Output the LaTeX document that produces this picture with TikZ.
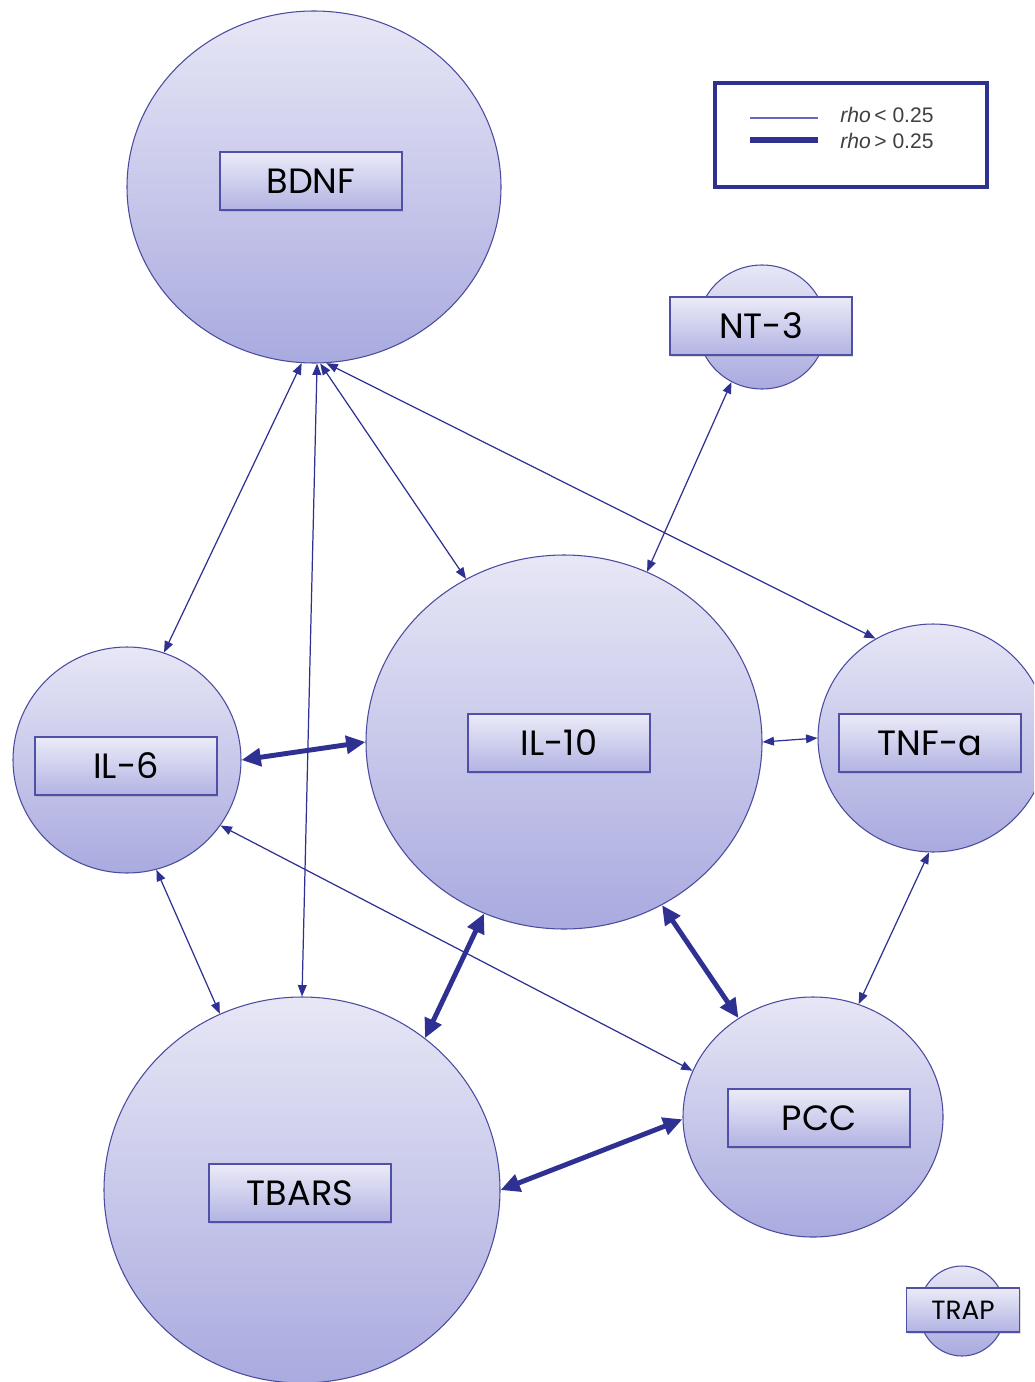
\documentclass[tikz,border=0pt]{standalone}
\usepackage{fontspec}
\setmainfont{Poppins}
\newfontfamily\keyfont{Liberation Sans}
\usetikzlibrary{shapes.geometric,arrows.meta,shadows}

\definecolor{blobtop}{HTML}{E7E7F6}
\definecolor{blobbot}{HTML}{A9AADF}
\definecolor{blobline}{HTML}{4A4A9E}
\definecolor{tagtop}{HTML}{EBEBF8}
\definecolor{tagbot}{HTML}{B2B3E3}
\definecolor{tagline}{HTML}{5050A6}
\definecolor{linkcol}{HTML}{2E3192}
\definecolor{keythin}{HTML}{6666C4}

\def\px{0.02cm}% one pixel of the sketch

\tikzset{
	blob/.style={ellipse, draw=blobline, line width=0.6pt, top color=blobtop, bottom color=blobbot, inner sep=0pt},
	tag/.style={rectangle, draw=tagline, line width=0.7pt, top color=tagtop, bottom color=tagbot, inner sep=0pt,
		minimum width=182*\px, minimum height=58*\px, font=\fontsize{20}{24}\selectfont,
		drop shadow={opacity=0.25, shadow xshift=0.6pt, shadow yshift=-1pt}},
	weak/.style={draw=linkcol, line width=0.7pt, {Triangle[length=6.5pt,width=5pt]}-{Triangle[length=6.5pt,width=5pt]}},
	strong/.style={draw=linkcol, line width=2.8pt, {Triangle[length=11pt,width=10pt]}-{Triangle[length=11pt,width=10pt]}}
}

\begin{document}
\begin{tikzpicture}[x=0.02cm, y=-0.02cm]
	
	\useasboundingbox (0,0) rectangle (1034,1382);
	\clip (0,0) rectangle (1034,1382); % TNF-a and TBARS run off the page
	
	% the circles: name / centre / radii
	\foreach \name/\x/\y/\rx/\ry in {bdnf/314/187/187/176, nt3/762/327/64/62, il6/127/760/114/113,
		il10/564/742/198/187, tnf/933/738/115/114, pcc/813/1117/130/120,
		tbars/302/1190/198/193, trap/962/1311/43/45}{%
		\node[blob, minimum width=2*\rx*\px, minimum height=2*\ry*\px] (\name) at (\x,\y) {};
	}
	
	% the labels on top
	\foreach \name/\x/\y/\txt in {bdnf/311/181/BDNF, nt3/761/326/NT-3, il6/126/766/IL-6,
		il10/559/743/IL-10, tnf/930/743/TNF-a, pcc/819/1118/PCC, tbars/300/1193/TBARS}{%
		\node[tag] (\name-tag) at (\x,\y) {\txt};
	}
	\node[tag, minimum width=113*\px, minimum height=44*\px, font=\fontsize{15}{18}\selectfont] (trap-tag) at (963,1310) {TRAP};
	
	% rho < 0.25
	\foreach \a/\b in {bdnf.266/il6.71, bdnf.271/tbars.90, bdnf.272/il10.121, bdnf.274/tnf.120,
		nt3.241/il10.64, il10.0/tnf.180, il6.285/tbars.115, il6.325/pcc.159, tnf.268/pcc.68}{%
		\draw[weak] (\a) -- (\b);
	}
	
	% rho > 0.25
	\foreach \a/\b in {il6.0/il10.180, il10.245/tbars.51, il10.301/pcc.127, tbars.0/pcc.181}{%
		\draw[strong] (\a) -- (\b);
	}
	
	% legend
	\node[draw=linkcol, line width=1.8pt, fill=white, minimum width=272*\px, minimum height=104*\px] (key) at (851,135) {};
	\coordinate (thin-l) at (750,118);
	\coordinate (thin-r) at (818,118);
	\coordinate (thick-l) at (750,140);
	\coordinate (thick-r) at (818,140);
	\draw[keythin, line width=1pt] (thin-l) -- (thin-r);
	\draw[linkcol, line width=3.2pt] (thick-l) -- (thick-r);
	\node[anchor=west, inner sep=0pt, font=\keyfont\fontsize{12}{14}\selectfont, text=black!75] (lo) at (840,115) {\textit{rho}\,< 0.25};
	\node[anchor=west, inner sep=0pt, font=\keyfont\fontsize{12}{14}\selectfont, text=black!75] (hi) at (840,141) {\textit{rho}\,> 0.25};
	
\end{tikzpicture}
\end{document}
